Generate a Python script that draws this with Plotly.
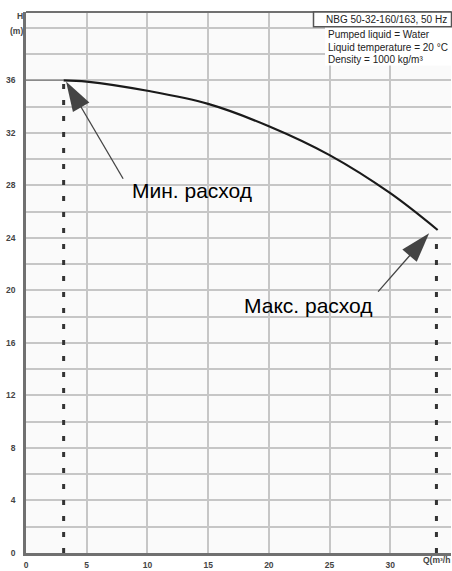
import plotly.graph_objects as go
import math

# ---------------- data ----------------
q_lead = [0.0, 3.1]
h_lead = [36.0, 36.0]
q_curve = [3.1, 5, 10, 15, 20, 25, 30, 33.9]
h_curve = [36.0, 35.9, 35.2, 34.2, 32.5, 30.3, 27.4, 24.6]
q_min_flow = 3.1
q_max_flow = 33.8
h_min_flow = 35.8
h_max_flow = 24.3
x_tick_vals = [0, 5, 10, 15, 20, 25, 30]
x_tick_text = ["0", "5", "10", "15", "20", "25", "30"]
y_tick_vals = list(range(0, 42, 2))
y_tick_text = [str(v) if (v % 4 == 0 and v <= 36) else "" for v in y_tick_vals]
info_title = "NBG 50-32-160/163, 50 Hz"
info_lines = ["Pumped liquid = Water", "Liquid temperature = 20 °C", "Density = 1000 kg/m³"]
label_min = "Мин. расход"
label_max = "Макс. расход"

# ---------------- layout geometry ----------------
W, H = 452, 571
ML, MR, MT, MB = 26, 1, 12, 12
XR = [0, 35]
YR = [0, 41.2]
PW = W - ML - MR
PH = H - MT - MB


def px(q):
    return ML + (q - XR[0]) * PW / (XR[1] - XR[0])


def py(h):
    return MT + (YR[1] - h) * PH / (YR[1] - YR[0])


def dq(x):
    return XR[0] + (x - ML) * (XR[1] - XR[0]) / PW


def dh(y):
    return YR[1] - (y - MT) * (YR[1] - YR[0]) / PH


def xpap(x):
    return (x - ML) / PW


def ypap(y):
    return (H - MB - y) / PH


FONT = "Liberation Sans, Arial, sans-serif"
fig = go.Figure()

# dashed verticals (min / max flow)
fig.add_trace(go.Scatter(x=[q_min_flow, q_min_flow], y=[0, h_min_flow], mode="lines",
                         line=dict(color="#333333", width=3, dash="5px,11px"),
                         hoverinfo="skip", showlegend=False))
fig.add_trace(go.Scatter(x=[q_max_flow, q_max_flow], y=[0, h_max_flow], mode="lines",
                         line=dict(color="#333333", width=3, dash="5px,11px"),
                         hoverinfo="skip", showlegend=False))
# curve
fig.add_trace(go.Scatter(x=q_lead, y=h_lead, mode="lines",
                         line=dict(color="#8a8a8a", width=1.5),
                         hoverinfo="skip", showlegend=False))
fig.add_trace(go.Scatter(x=q_curve, y=h_curve, mode="lines", line_shape="spline",
                         line=dict(color="#1a1a1a", width=2.2),
                         hoverinfo="skip", showlegend=False))

shapes = []
annotations = []


def arrow(tip_q, tip_h, tail_q, tail_h):
    tx, ty = px(tip_q), py(tip_h)
    sx, sy = px(tail_q), py(tail_h)
    vx, vy = tx - sx, ty - sy
    n = math.hypot(vx, vy)
    ux, uy = vx / n, vy / n
    L, hw = 30, 9.5
    bx, by = tx - L * ux, ty - L * uy
    nx, ny = -uy, ux
    c1 = (bx + hw * nx, by + hw * ny)
    c2 = (bx - hw * nx, by - hw * ny)
    shapes.append(dict(type="line", xref="x", yref="y", x0=tail_q, y0=tail_h,
                       x1=dq(bx + 2 * ux), y1=dh(by + 2 * uy),
                       line=dict(color="#444444", width=1.3), layer="above"))
    path = "M {},{} L {},{} L {},{} Z".format(dq(tx), dh(ty), dq(c1[0]), dh(c1[1]),
                                              dq(c2[0]), dh(c2[1]))
    shapes.append(dict(type="path", xref="x", yref="y", path=path,
                       fillcolor="#444444", line=dict(width=0), layer="above"))


arrow(3.3, 35.9, 8.0, 28.5)
arrow(33.2, 24.35, 29.0, 19.9)

# top border
shapes.append(dict(type="line", xref="paper", yref="paper", x0=0, x1=1, y0=1, y1=1,
                   line=dict(color="#707070", width=2), layer="above"))
# info white area
shapes.append(dict(type="rect", xref="paper", yref="paper",
                   x0=xpap(325), x1=xpap(453), y0=ypap(66), y1=ypap(27),
                   fillcolor="white", line=dict(width=0), layer="above"))
# title box
shapes.append(dict(type="rect", xref="paper", yref="paper",
                   x0=xpap(313.5), x1=xpap(451.5), y0=ypap(27), y1=ypap(12),
                   fillcolor="white", line=dict(color="#555555", width=1.5), layer="above"))

annotations.append(dict(text=info_title, xref="paper", yref="paper",
                        x=xpap(386.5), y=ypap(19.5), xanchor="center", yanchor="middle",
                        showarrow=False, font=dict(family=FONT, size=10, color="#222222")))
for i, line in enumerate(info_lines):
    annotations.append(dict(text=line, xref="paper", yref="paper",
                            x=xpap(326), y=ypap(34.5 + 13 * i), xanchor="left", yanchor="middle",
                            showarrow=False, font=dict(family=FONT, size=10, color="#222222")))

annotations.append(dict(text=label_min, xref="x", yref="y", x=13.7, y=27.6,
                        xanchor="center", yanchor="middle", showarrow=False,
                        font=dict(family=FONT, size=21, color="#000000")))
annotations.append(dict(text=label_max, xref="x", yref="y", x=23.3, y=18.85,
                        xanchor="center", yanchor="middle", showarrow=False,
                        font=dict(family=FONT, size=21, color="#000000")))

# axis titles
annotations.append(dict(text="<b>H</b>", xref="paper", yref="paper", x=xpap(20), y=ypap(16.5),
                        xanchor="center", yanchor="middle", showarrow=False,
                        font=dict(family=FONT, size=8.5, color="#444444")))
annotations.append(dict(text="<b>(m)</b>", xref="paper", yref="paper", x=xpap(16.5), y=ypap(31),
                        xanchor="center", yanchor="middle", showarrow=False,
                        font=dict(family=FONT, size=8.5, color="#444444")))
annotations.append(dict(text="<b>Q(m³/h</b>", xref="paper", yref="paper", x=xpap(452), y=ypap(566.5),
                        xanchor="right", yanchor="middle", showarrow=False,
                        font=dict(family=FONT, size=8.5, color="#444444")))

fig.update_layout(
    width=W, height=H,
    margin=dict(l=ML, r=MR, t=MT, b=MB, pad=0),
    paper_bgcolor="white", plot_bgcolor="#fafafa",
    shapes=shapes, annotations=annotations,
    showlegend=False,
    font=dict(family=FONT),
    xaxis=dict(range=XR, tickvals=x_tick_vals, ticktext=x_tick_text,
               showgrid=True, gridcolor="#c6c6c6", gridwidth=1.5, zeroline=False,
               showline=True, linecolor="#707070", linewidth=2.5,
               ticks="", ticklabelstandoff=2,
               tickfont=dict(family=FONT, size=8.5, color="#444444", weight="bold")),
    yaxis=dict(range=YR, tickvals=y_tick_vals, ticktext=y_tick_text,
               showgrid=True, gridcolor="#c6c6c6", gridwidth=1.5, zeroline=False,
               showline=True, linecolor="#707070", linewidth=2.5,
               ticks="", ticklabelstandoff=6,
               tickfont=dict(family=FONT, size=8.5, color="#444444", weight="bold")),
)

fig.write_html("out.html", config={"displayModeBar": False},
               post_script="document.body.style.margin='0';document.body.style.overflow='hidden';")
